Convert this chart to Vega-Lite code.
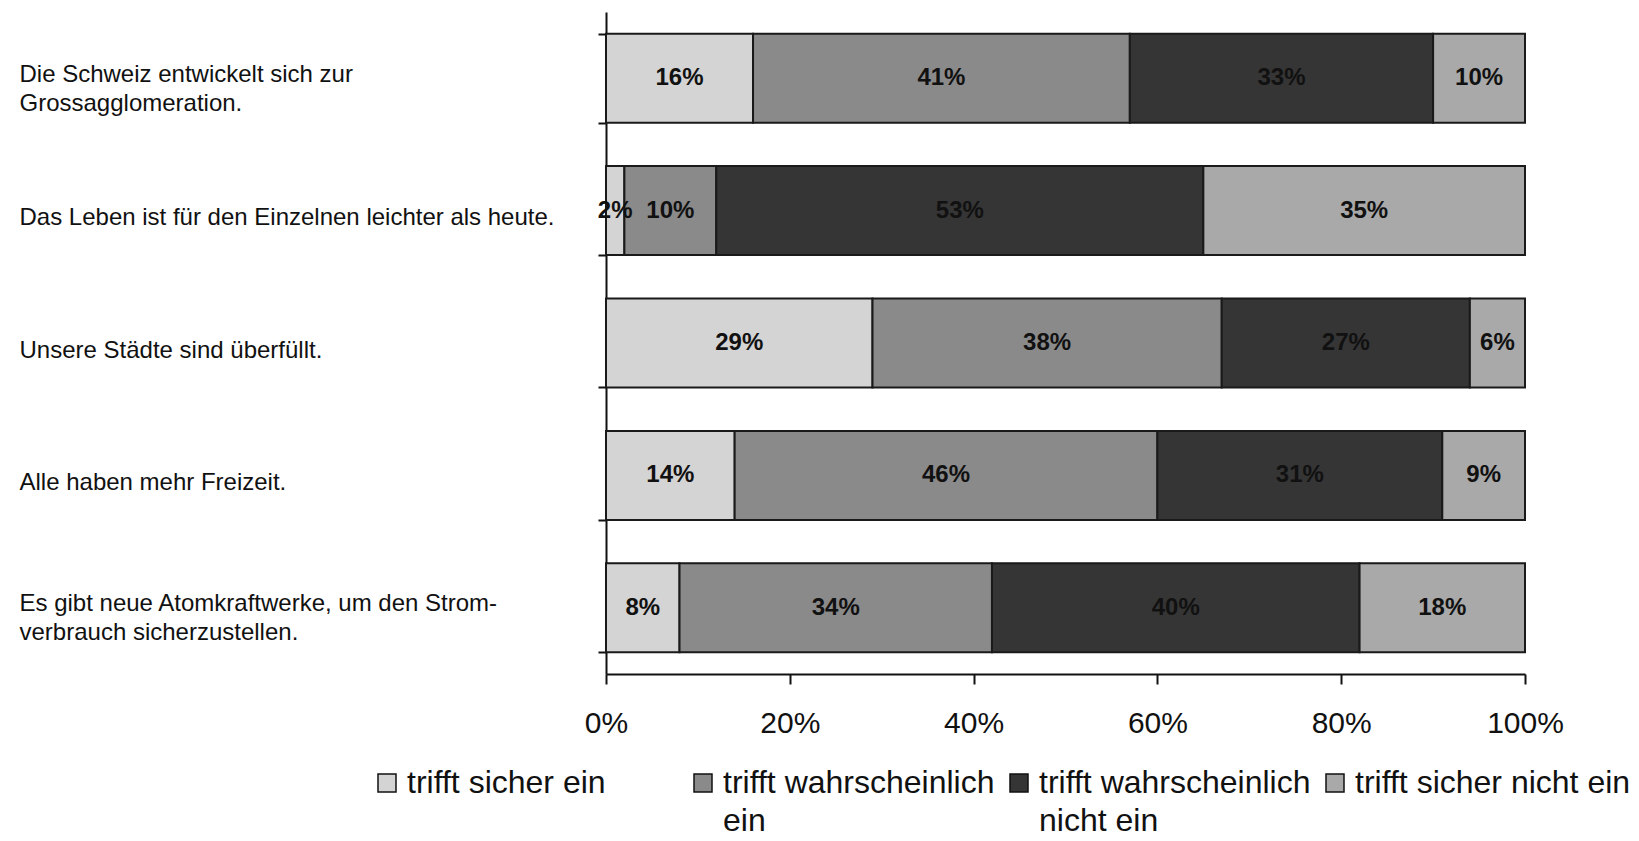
{
  "$schema": "https://vega.github.io/schema/vega-lite/v6.json",
  "autosize": {"type": "none"},
  "width": 919,
  "height": 662,
  "padding": {"left": 606, "top": 12, "right": 114, "bottom": 167},
  "background": "white",
  "config": {"view": {"stroke": null}, "font": "Liberation Sans"},
  "data": {"values": [
    {"statement": "Die Schweiz entwickelt sich zur Grossagglomeration.", "answer": "trifft sicher ein", "ord": 1, "pct": 0.16},
    {"statement": "Die Schweiz entwickelt sich zur Grossagglomeration.", "answer": "trifft wahrscheinlich ein", "ord": 2, "pct": 0.41},
    {"statement": "Die Schweiz entwickelt sich zur Grossagglomeration.", "answer": "trifft wahrscheinlich nicht ein", "ord": 3, "pct": 0.33},
    {"statement": "Die Schweiz entwickelt sich zur Grossagglomeration.", "answer": "trifft sicher nicht ein", "ord": 4, "pct": 0.10},
    {"statement": "Das Leben ist für den Einzelnen leichter als heute.", "answer": "trifft sicher ein", "ord": 1, "pct": 0.02},
    {"statement": "Das Leben ist für den Einzelnen leichter als heute.", "answer": "trifft wahrscheinlich ein", "ord": 2, "pct": 0.10},
    {"statement": "Das Leben ist für den Einzelnen leichter als heute.", "answer": "trifft wahrscheinlich nicht ein", "ord": 3, "pct": 0.53},
    {"statement": "Das Leben ist für den Einzelnen leichter als heute.", "answer": "trifft sicher nicht ein", "ord": 4, "pct": 0.35},
    {"statement": "Unsere Städte sind überfüllt.", "answer": "trifft sicher ein", "ord": 1, "pct": 0.29},
    {"statement": "Unsere Städte sind überfüllt.", "answer": "trifft wahrscheinlich ein", "ord": 2, "pct": 0.38},
    {"statement": "Unsere Städte sind überfüllt.", "answer": "trifft wahrscheinlich nicht ein", "ord": 3, "pct": 0.27},
    {"statement": "Unsere Städte sind überfüllt.", "answer": "trifft sicher nicht ein", "ord": 4, "pct": 0.06},
    {"statement": "Alle haben mehr Freizeit.", "answer": "trifft sicher ein", "ord": 1, "pct": 0.14},
    {"statement": "Alle haben mehr Freizeit.", "answer": "trifft wahrscheinlich ein", "ord": 2, "pct": 0.46},
    {"statement": "Alle haben mehr Freizeit.", "answer": "trifft wahrscheinlich nicht ein", "ord": 3, "pct": 0.31},
    {"statement": "Alle haben mehr Freizeit.", "answer": "trifft sicher nicht ein", "ord": 4, "pct": 0.09},
    {"statement": "Es gibt neue Atomkraftwerke, um den Stromverbrauch sicherzustellen.", "answer": "trifft sicher ein", "ord": 1, "pct": 0.08},
    {"statement": "Es gibt neue Atomkraftwerke, um den Stromverbrauch sicherzustellen.", "answer": "trifft wahrscheinlich ein", "ord": 2, "pct": 0.34},
    {"statement": "Es gibt neue Atomkraftwerke, um den Stromverbrauch sicherzustellen.", "answer": "trifft wahrscheinlich nicht ein", "ord": 3, "pct": 0.40},
    {"statement": "Es gibt neue Atomkraftwerke, um den Stromverbrauch sicherzustellen.", "answer": "trifft sicher nicht ein", "ord": 4, "pct": 0.18}
  ]},
  "encoding": {
    "y": {
      "field": "statement",
      "type": "nominal",
      "sort": [
        "Die Schweiz entwickelt sich zur Grossagglomeration.",
        "Das Leben ist für den Einzelnen leichter als heute.",
        "Unsere Städte sind überfüllt.",
        "Alle haben mehr Freizeit.",
        "Es gibt neue Atomkraftwerke, um den Stromverbrauch sicherzustellen."
      ],
      "scale": {"paddingInner": 0.328, "paddingOuter": 0.164},
      "axis": {
        "title": null,
        "tickBand": "extent",
        "domainColor": "#111",
        "domainWidth": 2,
        "tickColor": "#111",
        "tickWidth": 2,
        "tickSize": 8,
        "labelAlign": "left",
        "labelPadding": 579,
        "labelLimit": 600,
        "labelFont": "Liberation Sans",
        "labelFontSize": 24,
        "labelColor": "#111",
        "labelLineHeight": 29,
        "labelOffset": {
          "condition": {"test": "datum.value == 'Die Schweiz entwickelt sich zur Grossagglomeration.' || datum.value == 'Es gibt neue Atomkraftwerke, um den Stromverbrauch sicherzustellen.'", "value": -4},
          "value": 7
        },
        "labelExpr": "datum.value == 'Die Schweiz entwickelt sich zur Grossagglomeration.' ? ['Die Schweiz entwickelt sich zur', 'Grossagglomeration.'] : datum.value == 'Es gibt neue Atomkraftwerke, um den Stromverbrauch sicherzustellen.' ? ['Es gibt neue Atomkraftwerke, um den Strom-', 'verbrauch sicherzustellen.'] : datum.label"
      }
    }
  },
  "layer": [
    {
      "mark": {"type": "bar", "stroke": "#1a1a1a", "strokeWidth": 2},
      "encoding": {
        "x": {
          "field": "pct",
          "type": "quantitative",
          "stack": "zero",
          "scale": {"domain": [0, 1], "nice": false},
          "axis": {
            "title": null,
            "values": [0, 0.2, 0.4, 0.6, 0.8, 1],
            "format": ".0%",
            "grid": false,
            "domainColor": "#111",
            "domainWidth": 2,
            "tickColor": "#111",
            "tickWidth": 2,
            "tickSize": 10,
            "labelPadding": 24,
            "labelFont": "Liberation Sans",
            "labelFontSize": 30,
            "labelColor": "#111",
            "labelFlush": false
          }
        },
        "color": {
          "field": "answer",
          "type": "nominal",
          "scale": {
            "domain": ["trifft sicher ein", "trifft wahrscheinlich ein", "trifft wahrscheinlich nicht ein", "trifft sicher nicht ein"],
            "range": ["#d4d4d4", "#8a8a8a", "#353535", "#a9a9a9"]
          },
          "legend": {
            "title": null,
            "orient": "none",
            "legendX": -235,
            "legendY": 755,
            "direction": "horizontal",
            "columns": 4,
            "gridAlign": "all",
            "columnPadding": 4,
            "symbolType": "square",
            "symbolSize": 324,
            "symbolStrokeColor": "#111",
            "symbolStrokeWidth": 1.5,
            "labelFont": "Liberation Sans",
            "labelFontSize": 32,
            "labelColor": "#111",
            "labelLimit": 400,
            "labelOffset": 4,
            "labelExpr": "datum.label == 'trifft wahrscheinlich ein' ? ['trifft wahrscheinlich', 'ein'] : datum.label == 'trifft wahrscheinlich nicht ein' ? ['trifft wahrscheinlich', 'nicht ein'] : [datum.label, ' ']",
            "encode": {
              "labels": {
                "update": {
                  "lineHeight": {"value": 38}
                }
              }
            }
          }
        },
        "order": {"field": "ord", "type": "quantitative"}
      }
    },
    {
      "mark": {"type": "text", "font": "Liberation Sans", "fontSize": 24, "fontWeight": "bold", "color": "#111", "baseline": "middle"},
      "encoding": {
        "x": {"field": "pct", "type": "quantitative", "stack": "zero", "bandPosition": 0.5},
        "detail": {"field": "answer"},
        "text": {"field": "pct", "type": "quantitative", "format": ".0%"},
        "order": {"field": "ord", "type": "quantitative"}
      }
    }
  ]
}
